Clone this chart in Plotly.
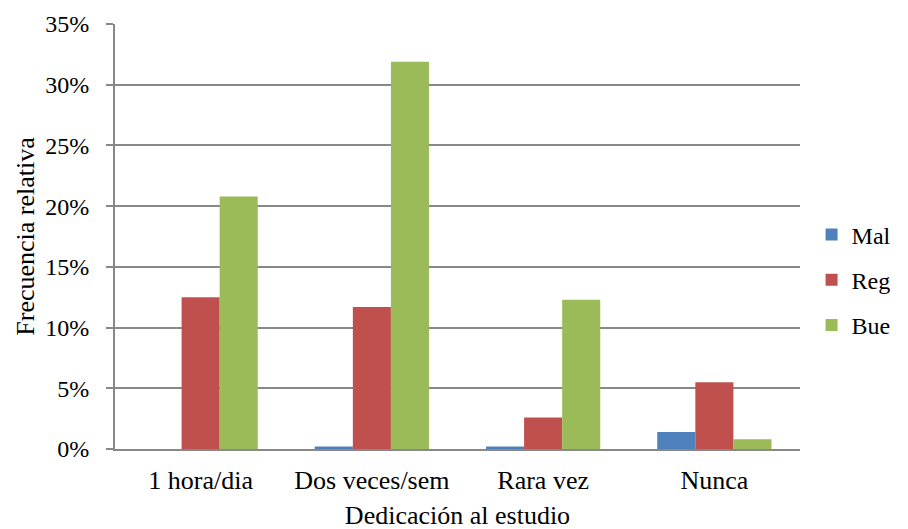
import plotly.graph_objects as go

categories = ["1 hora/dia", "Dos veces/sem", "Rara vez", "Nunca"]
mal = [0.0, 0.2, 0.2, 1.4]
reg = [12.5, 11.7, 2.6, 5.5]
bue = [20.8, 31.9, 12.3, 0.8]
series = [("Mal", mal, "#4F81BD"), ("Reg", reg, "#C0504D"), ("Bue", bue, "#9BBB59")]
y_ticks = [0, 5, 10, 15, 20, 25, 30, 35]
y_tick_labels = [f"{v}%\u00a0\u00a0" for v in y_ticks]

font = "Liberation Serif"
fs = 26

fig = go.Figure()
for name, vals, color in series:
    fig.add_trace(go.Bar(x=categories, y=vals, name=name, marker_color=color,
                         marker_line_width=0, legendgroup=name))

fig.update_layout(
    width=908, height=529,
    margin=dict(l=107, r=116, t=16, b=88),
    paper_bgcolor="white", plot_bgcolor="white",
    barmode="group", bargap=0.333, bargroupgap=0,
    font=dict(family=font, size=fs, color="black"),
    legend=dict(xref="container", yref="container", x=0.885, y=0.486,
                yanchor="middle", xanchor="left",
                font=dict(family=font, size=24), tracegroupgap=11,
                itemwidth=30),
    showlegend=True,
)
fig.update_xaxes(
    automargin=False,
    showline=True, linecolor="#888888", linewidth=2,
    ticks="", showgrid=False,
    ticklabelstandoff=7,
    title=dict(text="Dedicación al estudio", font=dict(family=font, size=fs), standoff=12),
    tickfont=dict(family=font, size=fs),
)
fig.update_yaxes(
    automargin=False,
    range=[0, 35], tickvals=y_ticks, ticktext=y_tick_labels,
    showline=True, linecolor="#888888", linewidth=2,
    ticks="outside", ticklen=7, tickcolor="#888888", tickwidth=1.5,
    showgrid=True, gridcolor="#888888", gridwidth=1.5,
    zeroline=False,
    title=dict(text="Frecuencia relativa", font=dict(family=font, size=fs), standoff=3),
    tickfont=dict(family=font, size=24),
)

fig.write_html("out.html")
